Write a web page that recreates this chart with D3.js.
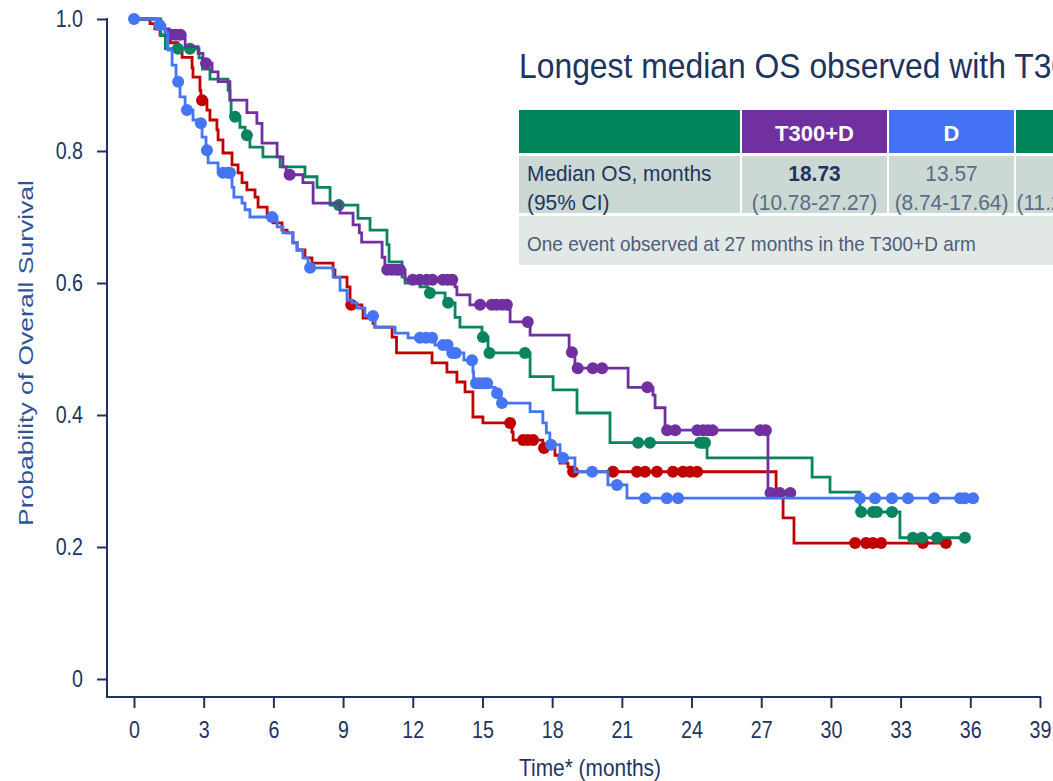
<!DOCTYPE html>
<html>
<head>
<meta charset="utf-8">
<script src="https://cdn.jsdelivr.net/npm/d3@7"></script>
<style>
  html, body { margin: 0; padding: 0; background: #fff; overflow: hidden; }
  svg { display: block; }
</style>
</head>
<body>
<svg id="chart" width="1053" height="781"></svg>
<script>
// Kaplan-Meier overall survival by arm: [month, survival after the drop]
const t300dSteps = [[0.99,0.985],[1.51,0.976],[2.20,0.958],[2.76,0.948],[2.97,0.933],[3.36,0.920],[3.62,0.905],[4.13,0.877],[4.86,0.858],[5.29,0.842],[5.51,0.812],[6.16,0.791],[6.41,0.776],[6.55,0.764],[7.27,0.752],[7.71,0.721],[8.87,0.706],[9.43,0.688],[9.70,0.676],[9.80,0.662],[10.68,0.639],[10.80,0.620],[11.67,0.605],[13.82,0.594],[13.90,0.582],[14.46,0.567],[16.19,0.541],[17.05,0.521],[18.73,0.495],[18.98,0.471],[21.27,0.442],[22.34,0.430],[22.43,0.411],[22.86,0.377],[27.29,0.282]];
const t300dCensored = [1.6,1.8,2.0,3.1,6.7,10.9,11.1,11.3,11.45,12.0,12.3,12.6,12.85,13.3,13.5,13.7,14.9,15.4,15.6,15.85,16.05,16.95,18.85,19.1,19.75,20.15,22.1,22.95,23.3,24.25,24.5,24.7,24.9,26.95,27.2,27.4,27.8,28.25];

const dSteps = [[1.05,0.991],[1.33,0.979],[1.46,0.953],[1.64,0.930],[1.81,0.905],[1.98,0.882],[2.20,0.862],[2.54,0.847],[2.80,0.842],[2.93,0.821],[3.10,0.801],[3.19,0.782],[3.62,0.767],[4.22,0.745],[4.30,0.730],[4.65,0.721],[4.78,0.711],[4.99,0.700],[6.16,0.685],[6.41,0.676],[6.84,0.661],[7.02,0.650],[7.27,0.638],[7.49,0.623],[8.57,0.609],[8.87,0.589],[9.17,0.574],[9.38,0.570],[9.60,0.562],[9.94,0.550],[10.37,0.533],[11.24,0.524],[11.80,0.517],[12.96,0.506],[13.57,0.494],[14.20,0.483],[14.59,0.465],[14.62,0.448],[15.33,0.442],[15.54,0.433],[15.80,0.418],[17.05,0.405],[17.60,0.388],[17.75,0.373],[17.90,0.355],[18.34,0.335],[18.98,0.314],[20.40,0.294],[21.22,0.274]];
const dCensored = [0,1.1,1.9,2.28,2.88,3.14,3.83,4.05,4.13,5.94,7.58,10.29,12.31,12.57,12.83,13.3,13.5,13.7,13.85,14.55,14.72,14.89,15.07,15.2,15.63,15.84,17.95,18.47,19.72,20.79,22.0,22.94,23.42,31.25,31.9,32.63,33.32,34.44,35.56,35.77,36.12];

const t75dSteps = [[0.69,0.993],[0.90,0.985],[1.12,0.976],[1.55,0.964],[1.89,0.953],[2.07,0.942],[2.50,0.926],[2.54,0.912],[2.84,0.892],[2.88,0.877],[3.14,0.862],[3.27,0.847],[3.57,0.832],[3.62,0.817],[3.83,0.797],[4.22,0.779],[4.48,0.767],[4.65,0.752],[4.86,0.741],[5.21,0.730],[5.34,0.715],[5.73,0.700],[5.98,0.691],[6.37,0.680],[6.59,0.676],[6.84,0.661],[7.02,0.650],[7.36,0.638],[7.66,0.630],[8.57,0.620],[8.65,0.609],[9.17,0.594],[9.30,0.567],[9.81,0.562],[9.86,0.547],[10.29,0.539],[10.37,0.533],[11.11,0.518],[11.30,0.494],[12.83,0.479],[13.47,0.465],[13.90,0.450],[14.25,0.435],[14.59,0.397],[15.02,0.388],[16.27,0.374],[16.32,0.362],[17.60,0.350],[18.12,0.339],[18.34,0.327],[18.68,0.321],[18.90,0.314],[27.64,0.280],[27.94,0.244],[28.41,0.206]];
const t75dCensored = [2.93,9.35,16.19,16.75,16.96,17.18,17.65,18.9,20.62,21.65,22.0,22.51,23.2,23.63,23.93,24.24,31.04,31.51,31.81,32.16,33.96,34.95];

const tSteps = [[1.15,0.975],[1.35,0.955],[2.80,0.941],[2.95,0.924],[3.27,0.909],[4.05,0.892],[4.13,0.877],[4.18,0.852],[4.56,0.836],[4.78,0.824],[4.99,0.806],[5.55,0.791],[6.29,0.776],[7.36,0.761],[7.88,0.745],[8.44,0.718],[9.64,0.698],[10.16,0.680],[10.89,0.658],[10.98,0.632],[11.54,0.609],[11.67,0.600],[12.31,0.594],[12.66,0.585],[13.39,0.570],[13.82,0.548],[14.03,0.533],[14.98,0.518],[15.24,0.494],[17.05,0.458],[18.04,0.438],[19.07,0.403],[20.49,0.358],[24.67,0.335],[29.19,0.306],[29.96,0.283],[31.25,0.253],[32.97,0.214]];
const tCensored = [1.89,2.41,4.35,4.86,8.82,12.74,13.52,15.02,15.3,16.83,21.7,22.21,24.36,24.49,24.58,31.3,31.81,31.98,32.63,33.53,33.92,34.57,35.77];

const xTicks = [0,3,6,9,12,15,18,21,24,27,30,33,36,39];
const yTicks = [0,0.2,0.4,0.6,0.8,1.0];

const tableHeaders = ["", "T300+D", "D", "T"];
const tableMedians = ["18.73", "13.57", "17.05"];
const tableCIs = ["(10.78-27.27)", "(8.74-17.64)", "(11.24-22.83)"];

const NAVY = "#1d3461";
const SANS = "'Liberation Sans',Arial,sans-serif";

const arms = [
  { steps: t75dSteps, censored: t75dCensored, color: "#c00000" },
  { steps: tSteps, censored: tCensored, color: "#0a8460" },
  { steps: t300dSteps, censored: t300dCensored, color: "#7030a0" },
  { steps: dSteps, censored: dCensored, color: "#4575f2" }
];

const svg = d3.select("#chart");
const x = d3.scaleLinear().domain([0, 39]).range([134, 1040]);
const y = d3.scaleLinear().domain([0, 1]).range([679, 19]);
const axisY = 107, axisX = 697;

// Condensed text: horizontally squeezed around its anchor point
function label(parent, px, py, str, o) {
  return parent.append("text")
    .attr("transform", `translate(${px},${py}) scale(${o.sx || 1},1)`)
    .attr("text-anchor", o.anchor || "start")
    .attr("font-family", SANS)
    .attr("font-size", o.size)
    .attr("font-weight", o.weight || "normal")
    .attr("fill", o.fill || NAVY)
    .text(str);
}

// Title
label(svg, 519, 78, "Longest median OS observed with T300+D", { size: 36, sx: 0.885 });

// Median OS table
const table = svg.append("g");
const colX = [519, 742, 889, 1016];
const colW = [221, 145, 125, 125];
const headerFill = ["#00845c", "#7030a0", "#4472f4", "#00845c"];
colX.forEach((cx, i) => {
  table.append("rect").attr("x", cx).attr("y", 110).attr("width", colW[i]).attr("height", 43).attr("fill", headerFill[i]);
  table.append("rect").attr("x", cx).attr("y", 156).attr("width", colW[i]).attr("height", 57).attr("fill", "#cbd8d3");
  const mid = cx + colW[i] / 2;
  if (tableHeaders[i]) {
    label(table, mid, 141, tableHeaders[i], { size: 22, weight: "bold", anchor: "middle", fill: "#fff" });
  }
  if (i > 0) {
    label(table, mid, 181, tableMedians[i - 1], {
      size: 22, sx: 0.95, anchor: "middle",
      weight: i === 1 ? "bold" : "normal", fill: i === 1 ? NAVY : "#5c6b84"
    });
    label(table, mid, 210, tableCIs[i - 1], { size: 22, sx: 0.95, anchor: "middle", fill: "#5c6b84" });
  }
});
label(table, 527, 181, "Median OS, months", { size: 22, sx: 0.95 });
label(table, 527, 210, "(95% CI)", { size: 22, sx: 0.95 });
table.append("rect").attr("x", 519).attr("y", 216).attr("width", 600).attr("height", 49).attr("fill", "#e1e8e6");
label(table, 527, 251, "One event observed at 27 months in the T300+D arm", { size: 20, sx: 0.95, fill: "#4d5d7a" });

// Axes
const TICK_SX = 0.82;
const yAxis = svg.append("g").attr("transform", `translate(${axisY},0)`)
  .call(d3.axisLeft(y).tickValues(yTicks).tickSize(10).tickSizeOuter(0)
    .tickFormat(d => d === 0 ? "0" : d3.format(".1f")(d)));
const xAxis = svg.append("g").attr("transform", `translate(0,${axisX})`)
  .call(d3.axisBottom(x).tickValues(xTicks).tickSize(11).tickSizeOuter(0).tickPadding(13));
[yAxis, xAxis].forEach(g => {
  g.select(".domain").remove();
  g.selectAll(".tick line").attr("stroke", NAVY).attr("stroke-width", 2);
  g.selectAll(".tick text").attr("fill", NAVY).attr("font-family", SANS).attr("font-size", 24)
    .attr("transform", `scale(${TICK_SX},1)`);
});
yAxis.selectAll(".tick text").attr("x", -24 / TICK_SX);
svg.append("line").attr("x1", axisY).attr("x2", axisY).attr("y1", y(1) - 1).attr("y2", axisX + 1)
  .attr("stroke", NAVY).attr("stroke-width", 2);
svg.append("line").attr("x1", axisY - 1).attr("x2", x(39) + 1).attr("y1", axisX).attr("y2", axisX)
  .attr("stroke", NAVY).attr("stroke-width", 2);

svg.append("text")
  .attr("transform", `translate(33,353) rotate(-90)`)
  .attr("text-anchor", "middle").attr("font-family", SANS)
  .attr("font-size", 21).attr("fill", "#2f5597")
  .attr("textLength", 346).attr("lengthAdjust", "spacingAndGlyphs")
  .text("Probability of Overall Survival");
label(svg, 590, 776, "Time* (months)", { size: 24, sx: 0.87, anchor: "middle" });

// Survival curves with censoring marks
function survivalAt(steps, t) {
  let s = 1;
  for (const [ts, v] of steps) { if (ts <= t) s = v; else break; }
  return s;
}
const line = d3.line().x(d => x(d[0])).y(d => y(d[1])).curve(d3.curveStepAfter);
arms.forEach(arm => {
  const last = arm.steps[arm.steps.length - 1];
  const end = Math.max(last[0], d3.max(arm.censored));
  const pts = [[0, 1], ...arm.steps, [end, last[1]]];
  const g = svg.append("g");
  g.append("path").attr("d", line(pts)).attr("fill", "none")
    .attr("stroke", arm.color).attr("stroke-width", 2.8);
  g.selectAll("circle").data(arm.censored).join("circle")
    .attr("cx", d => x(d)).attr("cy", d => y(survivalAt(arm.steps, d)))
    .attr("r", 6).attr("fill", arm.color);
});
</script>
</body>
</html>
